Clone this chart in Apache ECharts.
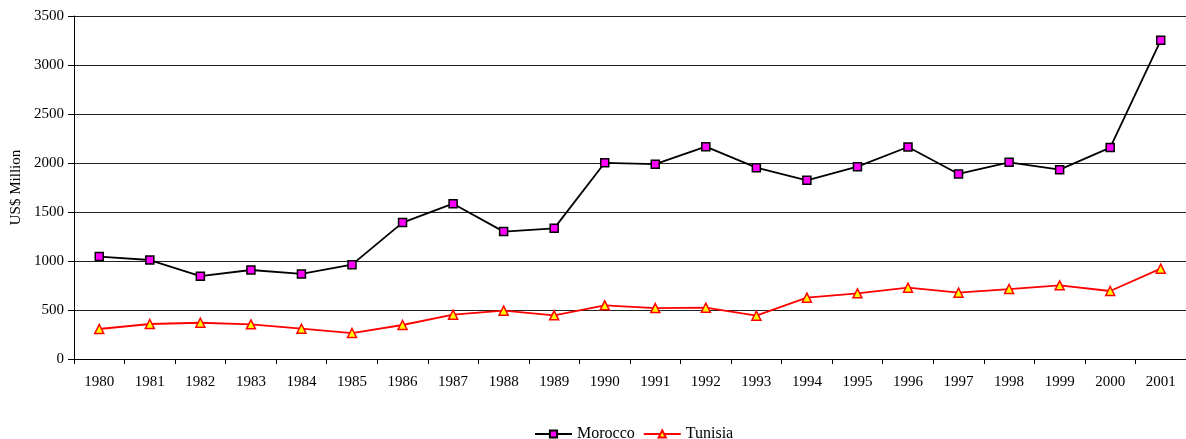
<!DOCTYPE html>
<html>
<head>
<meta charset="utf-8">
<style>
  html, body { margin: 0; padding: 0; background: #fff; }
  #chart-container { width: 1186px; height: 439px; }
</style>
</head>
<body>
<div id="chart-container"></div>
<script src="https://fastly.jsdelivr.net/npm/echarts@6/dist/echarts.min.js"></script>
<script type="text/javascript">
// years on the x axis
var years = ['1980', '1981', '1982', '1983', '1984', '1985', '1986', '1987', '1988', '1989', '1990',
             '1991', '1992', '1993', '1994', '1995', '1996', '1997', '1998', '1999', '2000', '2001'];

// values (US$ million)
var morocco = [1045, 1010, 845, 908, 868, 963, 1392, 1585, 1300, 1333, 2002,
               1988, 2167, 1952, 1823, 1963, 2163, 1888, 2007, 1932, 2157, 3252];
var tunisia = [306, 357, 370, 354, 309, 265, 347, 452, 493, 446, 548,
               520, 524, 442, 626, 670, 728, 677, 714, 752, 694, 922];

var dom = document.getElementById('chart-container');
var myChart = echarts.init(dom, null, { renderer: 'canvas' });

var serif = '"Liberation Serif", "Times New Roman", serif';

var option = {
  animation: false,
  textStyle: { fontFamily: serif },
  grid: { left: 74, right: 0, top: 16, bottom: 80, containLabel: false },
  legend: {
    left: 529,
    top: 421,
    itemWidth: 37,
    itemHeight: 9,
    itemGap: 8,
    textStyle: { fontFamily: serif, fontSize: 16, color: '#000' },
    data: ['Morocco', 'Tunisia']
  },
  xAxis: {
    type: 'category',
    data: years,
    boundaryGap: true,
    axisLine: { lineStyle: { color: '#000', width: 1 } },
    axisTick: { show: true, length: 5, alignWithLabel: false, lineStyle: { color: '#000' } },
    axisLabel: { color: '#000', fontSize: 15, fontFamily: serif, margin: 16, interval: 0 }
  },
  yAxis: {
    type: 'value',
    min: 0,
    max: 3500,
    interval: 500,
    name: 'US$ Million',
    nameLocation: 'middle',
    nameGap: 47,
    nameTextStyle: { color: '#000', fontSize: 15, fontFamily: serif },
    axisLine: { show: true, lineStyle: { color: '#000', width: 1 } },
    axisTick: { show: true, length: 6, lineStyle: { color: '#000' } },
    axisLabel: {
      color: '#000', fontSize: 15, fontFamily: serif, margin: 10,
      formatter: function (v) { return String(v); }
    },
    splitLine: { show: true, lineStyle: { color: '#222', width: 1 } }
  },
  series: [
    {
      name: 'Morocco',
      type: 'line',
      data: morocco,
      symbol: 'rect',
      symbolSize: 8,
      showAllSymbol: true,
      lineStyle: { color: '#000', width: 1.8 },
      itemStyle: { color: '#ff00ff', borderColor: '#000', borderWidth: 1.5 }
    },
    {
      name: 'Tunisia',
      type: 'line',
      data: tunisia,
      symbol: 'triangle',
      symbolSize: 9,
      showAllSymbol: true,
      lineStyle: { color: '#ff0000', width: 1.8 },
      itemStyle: { color: '#ffff00', borderColor: '#ff0000', borderWidth: 1.5 }
    }
  ]
};

myChart.setOption(option);
window.addEventListener('resize', myChart.resize);
</script>
</body>
</html>
